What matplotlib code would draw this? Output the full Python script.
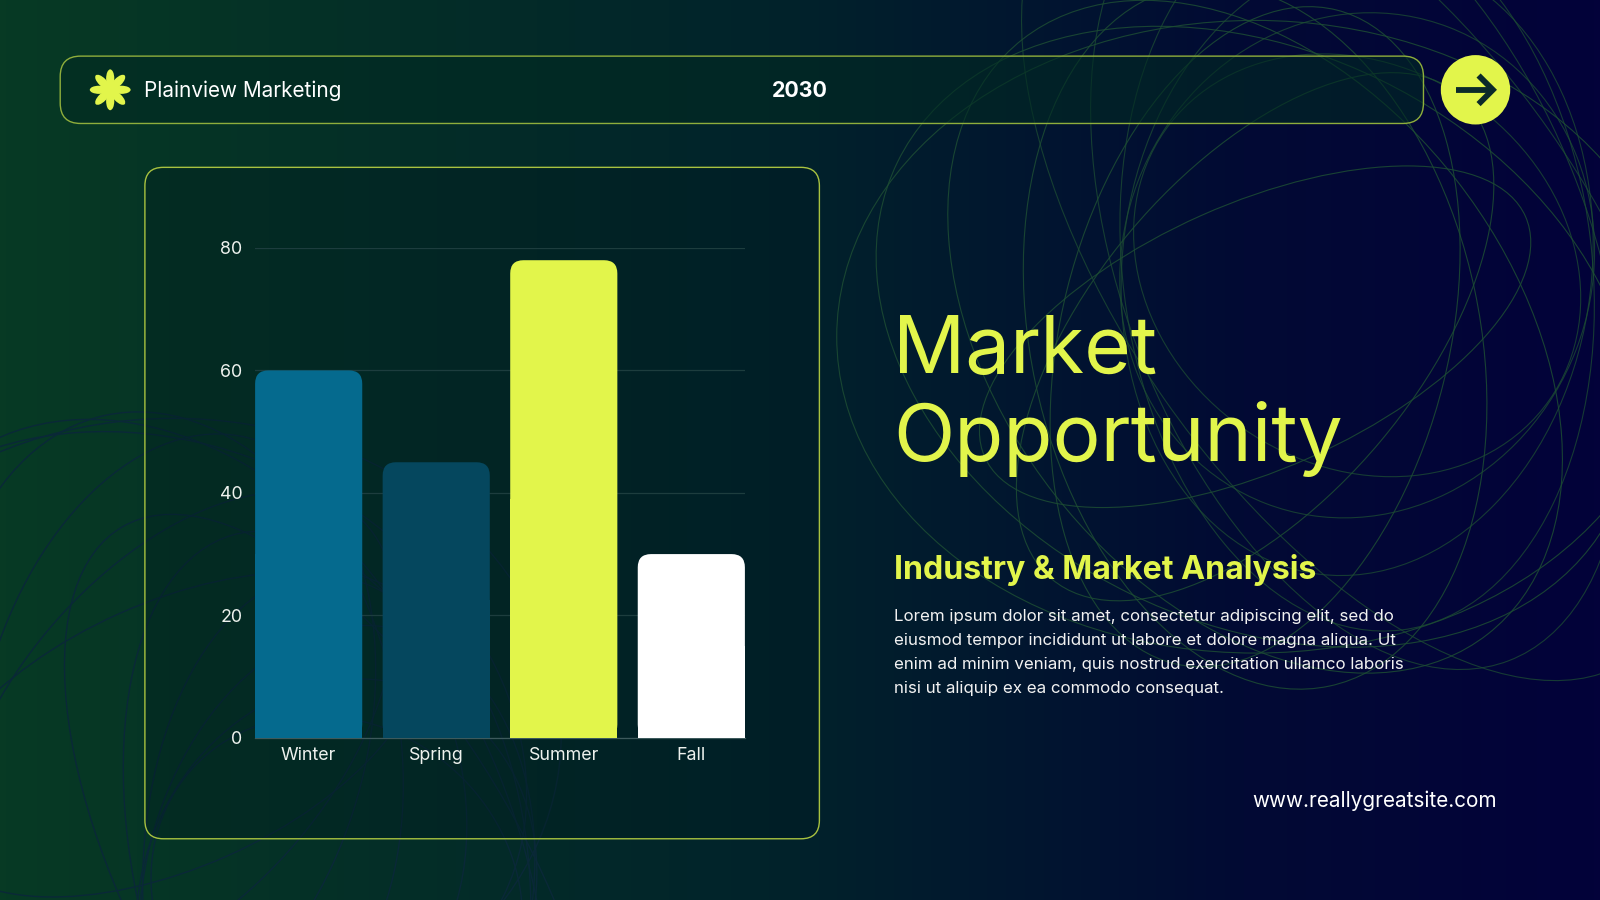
import numpy as np
import matplotlib.pyplot as plt
from matplotlib.patches import FancyBboxPatch, Rectangle, Circle, Ellipse
from matplotlib.colors import LinearSegmentedColormap

# ---- data ----
seasons = ["Winter", "Spring", "Summer", "Fall"]
values = [60, 45, 78, 30]
bar_colors = ["#056a8e", "#05475e", "#e2f54b", "#ffffff"]
yticks = [0, 20, 40, 60, 80]

body = ("Lorem ipsum dolor sit amet, consectetur adipiscing elit, sed do\n"
        "eiusmod tempor incididunt ut labore et dolore magna aliqua. Ut\n"
        "enim ad minim veniam, quis nostrud exercitation ullamco laboris\n"
        "nisi ut aliquip ex ea commodo consequat.")

# ---- look ----
W, H = 1568, 882          # reference canvas in px
S = 1600 / W              # px -> output px
def pt(px):
    return px * S * 0.72

LIME = "#e2f54b"
FONT = ["Inter", "DejaVu Sans"]
plt.rcParams["font.family"] = FONT

fig = plt.figure(figsize=(16, 9), dpi=100)

# background
bg = fig.add_axes([0, 0, 1, 1])
bg.set_xlim(0, W)
bg.set_ylim(H, 0)
bg.axis("off")
cmap = LinearSegmentedColormap.from_list(
    "bg", [(0, "#073a24"), (0.5, "#01222b"), (0.78, "#020a34"), (1, "#03023a")])
grad = np.linspace(0, 1, 512).reshape(1, -1)
bg.imshow(grad, cmap=cmap, extent=[0, W, H, 0], aspect="auto", zorder=0)

# decorative wireframe globes
for k in range(7):
    bg.add_patch(Ellipse((1230, 330), 820 - k * 40, 620 - k * 60, angle=k * 26,
                         fill=False, ec="#1d4d33", lw=0.8, alpha=0.85, zorder=1))
for k in range(6):
    bg.add_patch(Ellipse((1330, 260), 460, 940 - k * 110, angle=-35 + k * 14,
                         fill=False, ec="#1d4d33", lw=0.8, alpha=0.75, zorder=1))
for k in range(7):
    bg.add_patch(Ellipse((170, 720), 760 - k * 40, 620 - k * 60, angle=k * 26,
                         fill=False, ec="#0a2838", lw=1.0, zorder=1))
for k in range(6):
    bg.add_patch(Ellipse((330, 880), 380, 840 - k * 100, angle=-30 + k * 14,
                         fill=False, ec="#0a2838", lw=1.0, zorder=1))

# header pill
bg.add_patch(FancyBboxPatch((59, 55), 1336, 66, boxstyle="round,pad=0,rounding_size=20",
                            fc="#012a22", ec="none", alpha=0.6, zorder=2))
bg.add_patch(FancyBboxPatch((59, 55), 1336, 66, boxstyle="round,pad=0,rounding_size=20",
                            fc="none", ec="#8fae3c", lw=1.0, zorder=2))
# asterisk logo
for a in range(0, 360, 45):
    ca, sa = np.cos(np.radians(a)), np.sin(np.radians(a))
    bg.add_patch(Ellipse((108 + 11 * ca, 88 + 11 * sa), 18, 8, angle=a,
                         fc=LIME, ec="none", zorder=3))
bg.add_patch(Circle((108, 88), 5, fc=LIME, ec="none", zorder=3))
bg.text(141, 89, "Plainview Marketing", color="white", fontsize=pt(20.3),
        va="center", ha="left", zorder=4)
bg.text(784, 89, "2030", color="white", fontsize=pt(21), fontweight="bold",
        va="center", ha="center", zorder=4)

# arrow button
bg.add_patch(Circle((1446, 88), 34, fc=LIME, ec="none", zorder=4))
bg.plot([1427, 1461], [88, 88], color="#0b2a2a", lw=4.2, solid_capstyle="butt", zorder=5)
bg.plot([1449, 1463, 1449], [74, 88, 102], color="#0b2a2a", lw=4.2,
        solid_capstyle="butt", solid_joinstyle="miter", zorder=5)

# chart panel
bg.add_patch(FancyBboxPatch((142, 164), 661, 658, boxstyle="round,pad=0,rounding_size=18",
                            fc="#00181e", ec="none", alpha=0.3, zorder=2))
bg.add_patch(FancyBboxPatch((142, 164), 661, 658, boxstyle="round,pad=0,rounding_size=18",
                            fc="none", ec="#a8c240", lw=1.0, zorder=2))

# right side text
bg.text(875, 366, "Market", color=LIME, fontsize=pt(78.6),
        va="baseline", ha="left", zorder=4)
bg.text(875, 452, "Opportunity", color=LIME, fontsize=pt(78.6),
        va="baseline", ha="left", zorder=4)
bg.text(876, 567, "Industry & Market Analysis", color=LIME, fontsize=pt(31.5),
        fontweight="bold", va="baseline", ha="left", zorder=4)
bg.text(876, 597, body, color="#f2f2f2", fontsize=pt(16.6), va="top", ha="left",
        linespacing=1.75, zorder=4)
bg.text(1467, 785, "www.reallygreatsite.com", color="white", fontsize=pt(20.3),
        va="center", ha="right", zorder=4)

# ---- bar chart ----
ax = fig.add_axes([250 / W, 1 - 723 / H, 480 / W, 480 / H])
ax.set_facecolor("none")
bw = 0.84
ax.set_xlim(-0.42, len(values) - 0.58)
ax.set_ylim(0, 80)
rx = 13 / 125.0
asp = (13 / 6.0) / rx
for i, (v, c) in enumerate(zip(values, bar_colors)):
    ax.add_patch(FancyBboxPatch((i - bw / 2, 0), bw, v,
                                boxstyle=f"round,pad=0,rounding_size={rx}",
                                mutation_aspect=asp, fc=c, ec="none", zorder=3))
    ax.add_patch(Rectangle((i - bw / 2, 0), bw, v / 2, fc=c, ec="none", zorder=3))

ax.set_yticks(yticks)
ax.set_xticks(range(len(seasons)))
ax.set_xticklabels(seasons)
ax.yaxis.grid(True, color="#1d3d3e", lw=0.9)
ax.set_axisbelow(True)
for sp in ["top", "right", "left"]:
    ax.spines[sp].set_visible(False)
ax.spines["bottom"].set_color("#3d5a5c")
ax.spines["bottom"].set_linewidth(0.9)
ax.tick_params(axis="both", length=0, colors="#eef2ee", labelsize=pt(17.5))
ax.tick_params(axis="y", pad=9)
ax.tick_params(axis="x", pad=7)

fig.savefig("out.png", dpi=100, facecolor=fig.get_facecolor())
